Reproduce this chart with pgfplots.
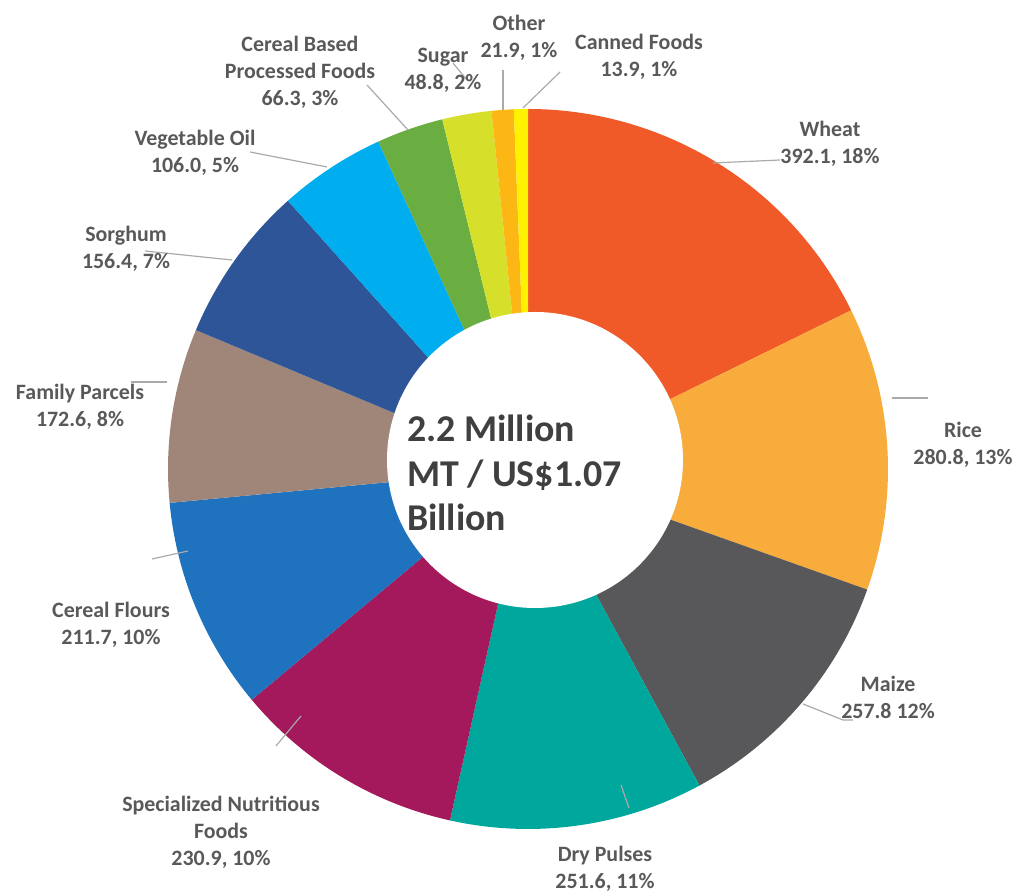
\documentclass[border=0pt]{standalone}
\usepackage{fontspec}
\setmainfont{Carlito}
\usepackage{pgfplots}
\usepackage{pgfplotstable}
\pgfplotsset{compat=1.18}
\definecolor{cWheat}{RGB}{240,90,40}
\definecolor{cRice}{RGB}{248,172,60}
\definecolor{cMaize}{RGB}{88,88,90}
\definecolor{cPulses}{RGB}{0,167,157}
\definecolor{cSNF}{RGB}{163,25,91}
\definecolor{cFlours}{RGB}{31,114,190}
\definecolor{cFamily}{RGB}{160,134,121}
\definecolor{cSorghum}{RGB}{46,85,151}
\definecolor{cOil}{RGB}{0,174,239}
\definecolor{cCBPF}{RGB}{106,174,65}
\definecolor{cSugar}{RGB}{214,224,42}
\definecolor{cOther}{RGB}{253,183,20}
\definecolor{cCanned}{RGB}{255,242,0}
\definecolor{labgray}{RGB}{89,89,89}
\definecolor{centgray}{RGB}{64,64,64}
\definecolor{leadgray}{RGB}{170,170,170}
\pgfplotstableread[col sep=comma]{
label,value,color
Wheat,392.1,cWheat
Rice,280.8,cRice
Maize,257.8,cMaize
Dry Pulses,251.6,cPulses
Specialized Nutritious Foods,230.9,cSNF
Cereal Flours,211.7,cFlours
Family Parcels,172.6,cFamily
Sorghum,156.4,cSorghum
Vegetable Oil,106.0,cOil
Cereal Based Processed Foods,66.3,cCBPF
Sugar,48.8,cSugar
Other,21.9,cOther
Canned Foods,13.9,cCanned
}\piedata
\begin{document}
\begin{tikzpicture}
\begin{axis}[width=508bp, height=446.5bp, scale only axis,
  xmin=0, xmax=1016, ymin=0, ymax=893, hide axis, clip=false]
\pgfplotstablegetrowsof{\piedata}
\pgfmathtruncatemacro\N{\pgfplotsretval-1}
\def\total{0}
\pgfplotsforeachungrouped \i in {0,...,\N}{%
  \pgfplotstablegetelem{\i}{value}\of\piedata
  \pgfmathsetmacro\total{\total+\pgfplotsretval}%
}
\def\cum{0}
\pgfplotsforeachungrouped \i in {0,...,\N}{%
  \pgfplotstablegetelem{\i}{value}\of\piedata \let\v\pgfplotsretval
  \pgfplotstablegetelem{\i}{color}\of\piedata \let\slicecol\pgfplotsretval
  \pgfmathsetmacro\angA{90-360*(\cum/\total)}%
  \pgfmathsetmacro\cum{\cum+\v}%
  \pgfmathsetmacro\angB{90-360*(\cum/\total)}%
  \edef\temp{\noexpand\fill[\slicecol] (axis cs:528,424) -- ++(\angA:180bp) arc[start angle=\angA, end angle=\angB, radius=180bp] -- cycle;}%
  \temp
}
\fill[white] (axis cs:535,433) circle[radius=74bp];
\node[anchor=west, align=left, text=centgray, font=\fontsize{19}{22.5}\selectfont\bfseries] at (axis cs:400,420) {2.2 Million\\MT / US\$1.07\\Billion};
% leader lines
\begin{scope}[leadgray, line width=0.6pt]
\draw (axis cs:713,730) -- (axis cs:780,733);
\draw (axis cs:892,495) -- (axis cs:928,495);
\draw (axis cs:803,189) -- (axis cs:843,173) -- (axis cs:853,173);
\draw (axis cs:621,108) -- (axis cs:629,85);
\draw (axis cs:301,177) -- (axis cs:276,147);
\draw (axis cs:188,342) -- (axis cs:152,334);
\draw (axis cs:131,511) -- (axis cs:167,511);
\draw (axis cs:145,642) -- (axis cs:232,633);
\draw (axis cs:250,741) -- (axis cs:327,726);
\draw (axis cs:367,808) -- (axis cs:408,763);
\draw (axis cs:453,830) -- (axis cs:467,813);
\draw (axis cs:503,823) -- (axis cs:503,783);
\draw (axis cs:560,821) -- (axis cs:523,785);
\end{scope}
% labels
\begin{scope}[every node/.style={align=center, text=labgray, font=\fontsize{11}{13.5}\selectfont\bfseries}]
\node at (axis cs:830,749) {Wheat\\392.1, 18\%};
\node at (axis cs:963,448) {Rice\\280.8, 13\%};
\node at (axis cs:888,196) {Maize\\257.8 12\%};
\node at (axis cs:605,24) {Dry Pulses\\251.6, 11\%};
\node at (axis cs:221,61) {Specialized Nutritious\\Foods\\230.9, 10\%};
\node at (axis cs:111,268) {Cereal Flours\\211.7, 10\%};
\node at (axis cs:80,486) {Family Parcels\\172.6, 8\%};
\node at (axis cs:126,644) {Sorghum\\156.4, 7\%};
\node at (axis cs:195,740) {Vegetable Oil\\106.0, 5\%};
\node at (axis cs:300,821) {Cereal Based\\Processed Foods\\66.3, 3\%};
\node at (axis cs:443,823) {Sugar\\48.8, 2\%};
\node at (axis cs:519,855) {Other\\21.9, 1\%};
\node at (axis cs:639,836) {Canned Foods\\13.9, 1\%};
\end{scope}
\end{axis}
\pgfresetboundingbox
\useasboundingbox (current axis.south west) rectangle (current axis.north east);
\end{tikzpicture}
\end{document}
